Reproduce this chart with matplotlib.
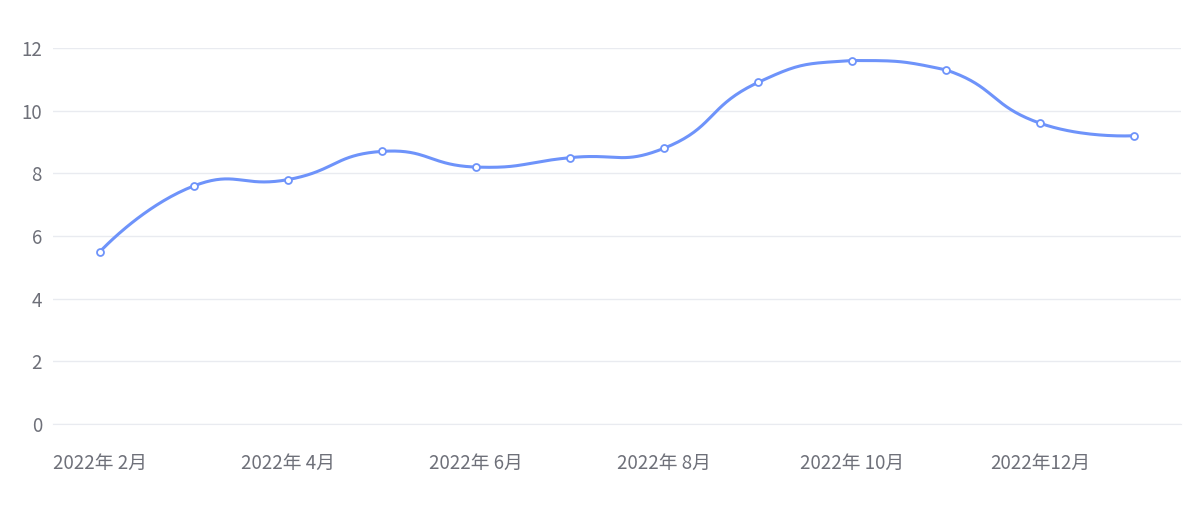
import numpy as np
import matplotlib.pyplot as plt

plt.rcParams['font.family'] = ['Noto Sans CJK SC', 'DejaVu Sans']

months = ['2022年 2月', '2022年 3月', '2022年 4月', '2022年 5月', '2022年 6月', '2022年 7月',
          '2022年 8月', '2022年 9月', '2022年 10月', '2022年 11月', '2022年12月', '2023年 1月']
values = [5.5, 7.6, 7.8, 8.7, 8.2, 8.5, 8.8, 10.9, 11.6, 11.3, 9.6, 9.2]
yticks = [0, 2, 4, 6, 8, 10, 12]

line_color = '#6e93fa'
label_color = '#6e7079'
grid_color = '#e9ebf0'


def smooth_curve(xs, ys, sx, sy, smooth=0.5, steps=40):
    # bezier smoothing in pixel space, control points kept inside the data bbox
    p = np.column_stack([np.asarray(xs, float) * sx, np.asarray(ys, float) * sy])
    lo, hi = p.min(axis=0), p.max(axis=0)
    n = len(p)
    cps = []
    for i in range(n):
        if i == 0 or i == n - 1:
            cps.append((p[i].copy(), p[i].copy()))
            continue
        prev, nxt = p[i - 1], p[i + 1]
        v = (nxt - prev) * smooth
        d0 = np.linalg.norm(p[i] - prev)
        d1 = np.linalg.norm(nxt - p[i])
        s = d0 + d1
        c0 = np.clip(p[i] - v * d0 / s, lo, hi)
        c1 = np.clip(p[i] + v * d1 / s, lo, hi)
        cps.append((c0, c1))
    t = np.linspace(0, 1, steps)[:, None]
    pts = []
    for i in range(n - 1):
        a, b = p[i], cps[i][1]
        c, d = cps[i + 1][0], p[i + 1]
        pts.append((1 - t) ** 3 * a + 3 * (1 - t) ** 2 * t * b + 3 * (1 - t) * t ** 2 * c + t ** 3 * d)
    pts = np.vstack(pts)
    return pts[:, 0] / sx, pts[:, 1] / sy


fig = plt.figure(figsize=(11.89, 5.16), dpi=100)
ax = fig.add_axes([53 / 1189, 92 / 516, 1128 / 1189, 376 / 516])

x = np.arange(len(values))
cx, cy = smooth_curve(x, values, 94, 31.33)
ax.plot(cx, cy, color=line_color, lw=2.2, zorder=3, solid_capstyle='round')
ax.plot(x, values, ls='none', marker='o', ms=5, mfc='white', mec=line_color, mew=1.3, zorder=4)

ax.set_xlim(-0.5, len(values) - 0.5)
ax.set_ylim(0, 12)
ax.set_yticks(yticks)
ax.set_xticks(x[::2])
ax.set_xticklabels(months[::2])
ax.grid(axis='y', color=grid_color, lw=1)
ax.set_axisbelow(True)
for side in ['top', 'right', 'left']:
    ax.spines[side].set_visible(False)
ax.spines['bottom'].set_color(grid_color)
ax.tick_params(axis='both', length=0, colors=label_color, labelsize=13.5)
ax.tick_params(axis='y', pad=8)
ax.tick_params(axis='x', pad=21)

fig.savefig('out.png', dpi=100)
